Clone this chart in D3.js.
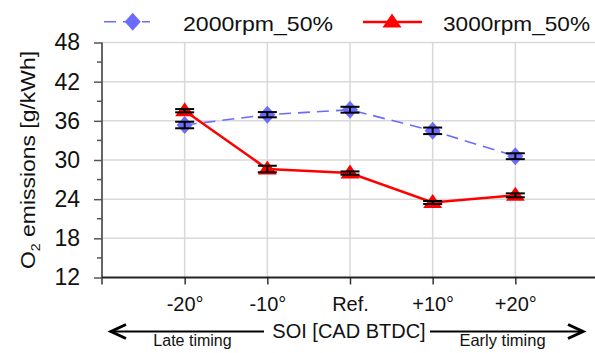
<!DOCTYPE html>
<html><head><meta charset="utf-8">
<script src="https://cdn.jsdelivr.net/npm/d3@7"></script>
<style>
html,body{margin:0;padding:0;background:#fff;}
svg{display:block;font-family:Arial,"Liberation Sans",sans-serif;}
</style></head>
<body><svg id="c" width="595" height="353"></svg>
<script>
const categories = ["-20°", "-10°", "Ref.", "+10°", "+20°"];
const yTicks = [12, 18, 24, 30, 36, 42, 48];
const yMinorTicks = [15, 21, 27, 33, 39, 45];
const s2000 = [35.36, 36.94, 37.7, 34.47, 30.58];
const e2000 = [0.5, 0.4, 0.45, 0.5, 0.45];
const s3000 = [37.55, 28.62, 28.0, 23.49, 24.59];
const e3000 = [0.25, 0.5, 0.25, 0.23, 0.3];
const seriesNames = ["2000rpm_50%", "3000rpm_50%"];
const xTitle = "SOI [CAD BTDC]";
const lateLabel = "Late timing", earlyLabel = "Early timing";

const svg = d3.select("#c");
const L = 102, R = 598, T = 42.5, B = 277.5;
const x = d3.scalePoint().domain(categories).range([L, R]).padding(1);
const y = d3.scaleLinear().domain([12, 48]).range([B, T]);
const blue = "#6b6bff", red = "#ff0000";

// grid
svg.append("g").selectAll("line").data(yTicks.filter(d => d > 12)).join("line")
  .attr("x1", L).attr("x2", 595).attr("y1", d => y(d)).attr("y2", d => y(d))
  .attr("stroke", "#d9d9d9").attr("stroke-width", 1.5);
svg.append("g").selectAll("line").data(categories).join("line")
  .attr("x1", d => x(d)).attr("x2", d => x(d)).attr("y1", T).attr("y2", B)
  .attr("stroke", "#d9d9d9").attr("stroke-width", 1.5);

// y axis
const yAxis = svg.append("g").attr("transform", `translate(${L},0)`)
  .call(d3.axisLeft(y).tickValues(yTicks).tickSize(8).tickPadding(14));
yAxis.select(".domain").remove();
yAxis.selectAll(".tick line").attr("stroke", "#555").attr("stroke-width", 1.5);
yAxis.selectAll(".tick text").attr("font-size", 23).attr("font-family", "Arial, Liberation Sans, sans-serif").attr("fill", "#111");
svg.append("g").selectAll("line").data(yMinorTicks).join("line")
  .attr("x1", L - 5).attr("x2", L).attr("y1", d => y(d)).attr("y2", d => y(d))
  .attr("stroke", "#555").attr("stroke-width", 1.5);
svg.append("line").attr("x1", L).attr("x2", L).attr("y1", T).attr("y2", B + 7)
  .attr("stroke", "#555").attr("stroke-width", 1.8);

// x axis
const xAxis = svg.append("g").attr("transform", `translate(0,${B})`)
  .call(d3.axisBottom(x).tickSize(7).tickPadding(12));
xAxis.select(".domain").remove();
xAxis.selectAll(".tick line").attr("stroke", "#333").attr("stroke-width", 1.5);
xAxis.selectAll(".tick text").attr("font-size", 20).attr("font-family", "Arial, Liberation Sans, sans-serif").attr("fill", "#111");
svg.append("line").attr("x1", L).attr("x2", 595).attr("y1", B).attr("y2", B)
  .attr("stroke", "#222").attr("stroke-width", 1.8);

// y title
svg.append("text").attr("transform", "translate(35,160) rotate(-90)")
  .attr("text-anchor", "middle").attr("font-size", 21).attr("fill", "#111")
  .attr("textLength", 218).attr("lengthAdjust", "spacingAndGlyphs")
  .html('O<tspan font-size="13" dy="5">2</tspan><tspan dy="-5"> emissions [g/kWh]</tspan>');

// lines
const line = d3.line().x((d, i) => x(categories[i])).y(d => y(d));
svg.append("path").datum(s2000).attr("d", line).attr("fill", "none")
  .attr("stroke", blue).attr("stroke-width", 1.6).attr("stroke-dasharray", "12,7");
svg.append("path").datum(s3000).attr("d", line).attr("fill", "none")
  .attr("stroke", red).attr("stroke-width", 2.5);

const diamond = (cx, cy) => `M${cx},${cy-9}L${cx+8},${cy}L${cx},${cy+9}L${cx-8},${cy}Z`;
const tri = (cx, cy) => `M${cx},${cy-8.5}L${cx+9.5},${cy+5.5}L${cx-9.5},${cy+5.5}Z`;

svg.append("g").selectAll("path").data(s2000).join("path")
  .attr("d", (d, i) => diamond(x(categories[i]), y(d))).attr("fill", blue);
svg.append("g").selectAll("path").data(s3000).join("path")
  .attr("d", (d, i) => tri(x(categories[i]), y(d))).attr("fill", red);

function errBars(vals, errs) {
  const g = svg.append("g").attr("stroke", "#000").attr("stroke-width", 2);
  vals.forEach((v, i) => {
    const cx = x(categories[i]);
    g.append("line").attr("x1", cx).attr("x2", cx).attr("y1", y(v + errs[i])).attr("y2", y(v - errs[i]));
    [v + errs[i], v - errs[i]].forEach(e => g.append("line").attr("x1", cx - 9.5).attr("x2", cx + 9.5).attr("y1", y(e)).attr("y2", y(e)));
  });
}
errBars(s2000, e2000);
errBars(s3000, e3000);

// legend
svg.append("line").attr("x1", 104).attr("x2", 150).attr("y1", 21.7).attr("y2", 21.7)
  .attr("stroke", blue).attr("stroke-width", 1.6).attr("stroke-dasharray", "12,7");
svg.append("path").attr("d", diamond(132.7, 21.7)).attr("fill", blue);
svg.append("text").attr("x", 183).attr("y", 31).attr("font-size", 21).attr("fill", "#111")
  .attr("textLength", 150).attr("lengthAdjust", "spacingAndGlyphs").text(seriesNames[0]);
svg.append("line").attr("x1", 363).attr("x2", 422).attr("y1", 22).attr("y2", 22)
  .attr("stroke", red).attr("stroke-width", 2.5);
svg.append("path").attr("d", tri(392, 22)).attr("fill", red);
svg.append("text").attr("x", 443).attr("y", 31).attr("font-size", 21).attr("fill", "#111")
  .attr("textLength", 147).attr("lengthAdjust", "spacingAndGlyphs").text(seriesNames[1]);

// x title and arrows
svg.append("text").attr("x", 349).attr("y", 338).attr("text-anchor", "middle")
  .attr("font-size", 20).attr("fill", "#111").text(xTitle);
const ay = 331.5;
svg.append("line").attr("x1", 111).attr("x2", 264).attr("y1", ay).attr("y2", ay).attr("stroke", "#000").attr("stroke-width", 2);
svg.append("path").attr("d", `M${126},${ay-7}L${111},${ay}L${126},${ay+7}`).attr("fill", "none").attr("stroke", "#000").attr("stroke-width", 3);
svg.append("line").attr("x1", 430).attr("x2", 582).attr("y1", ay).attr("y2", ay).attr("stroke", "#000").attr("stroke-width", 2);
svg.append("path").attr("d", `M${568},${ay-7}L${583},${ay}L${568},${ay+7}`).attr("fill", "none").attr("stroke", "#000").attr("stroke-width", 3);
svg.append("text").attr("x", 192.5).attr("y", 346).attr("text-anchor", "middle").attr("font-size", 16).attr("fill", "#111").text(lateLabel);
svg.append("text").attr("x", 502.5).attr("y", 346).attr("text-anchor", "middle").attr("font-size", 16.5).attr("fill", "#111").text(earlyLabel);
</script></body></html>
